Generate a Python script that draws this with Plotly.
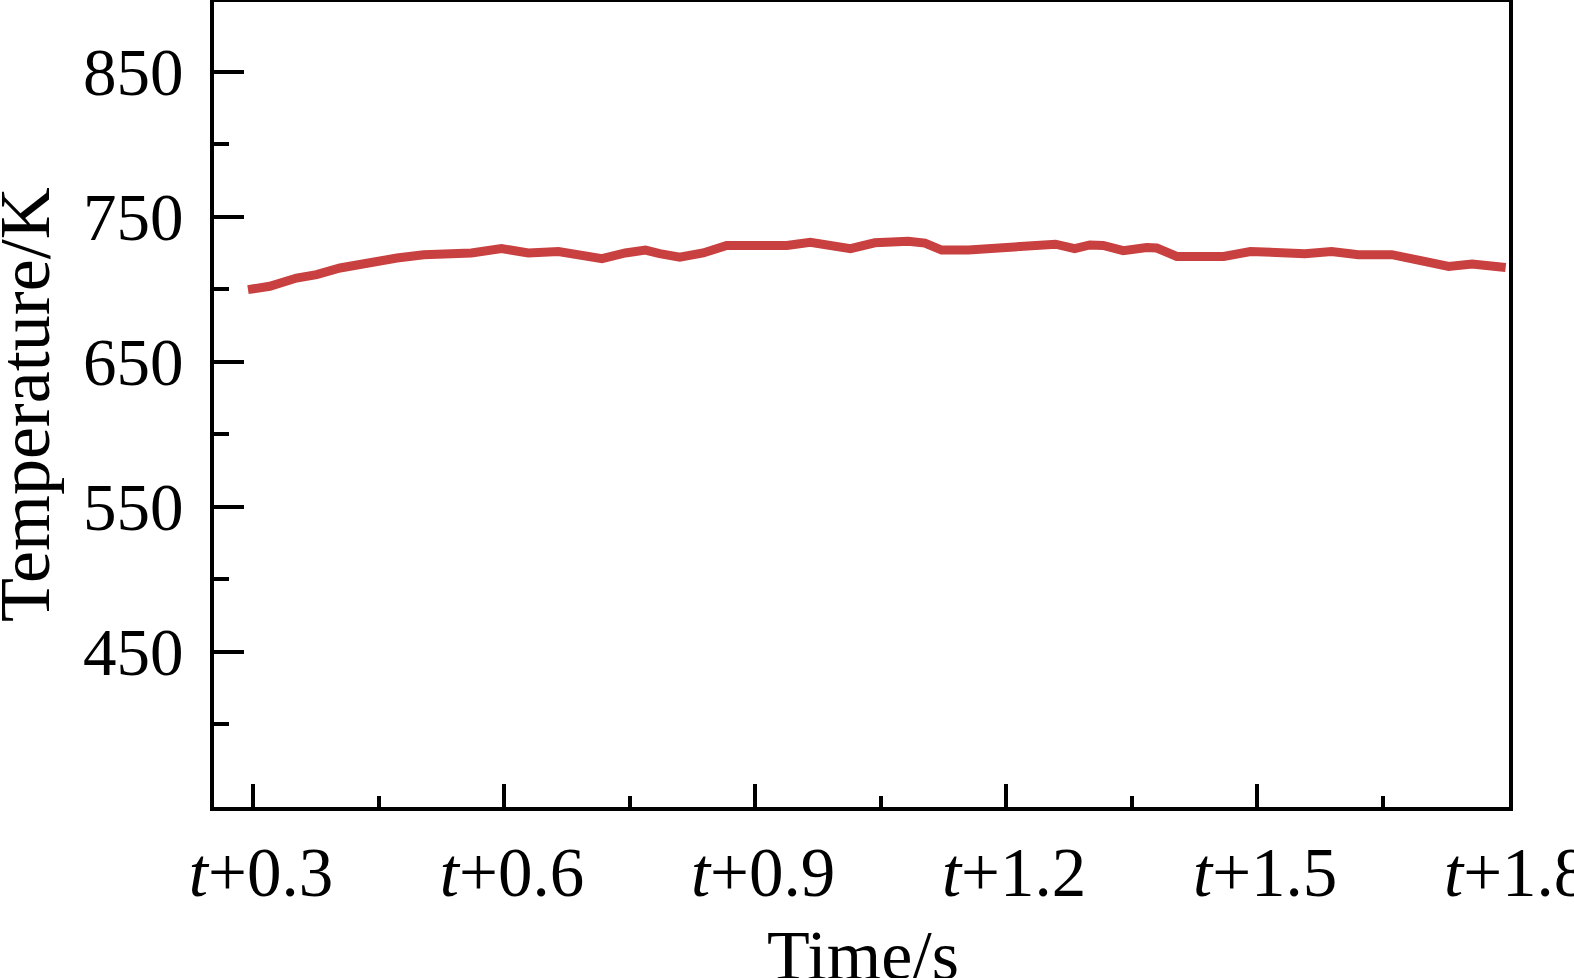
import plotly.graph_objects as go

# Data (time offset in s after t, temperature in K)
time_s = [0.294, 0.320, 0.352, 0.376, 0.404, 0.440, 0.472, 0.504, 0.527, 0.561,
          0.597, 0.629, 0.665, 0.697, 0.717, 0.745, 0.769, 0.786, 0.810, 0.838,
          0.866, 0.906, 0.938, 0.966, 0.994, 1.014, 1.043, 1.083, 1.103, 1.123,
          1.155, 1.195, 1.227, 1.259, 1.282, 1.300, 1.316, 1.340, 1.368, 1.380,
          1.404, 1.440, 1.460, 1.492, 1.524, 1.557, 1.589, 1.621, 1.661, 1.693,
          1.729, 1.757, 1.797]
temperature_K = [699.7, 702.0, 707.7, 710.0, 714.6, 719.0, 721.5, 723.8, 724.3, 725.0,
                 728.0, 725.0, 726.0, 723.4, 721.0, 725.0, 727.0, 724.5, 722.0, 725.0,
                 730.2, 730.2, 730.2, 732.4, 730.2, 728.0, 732.0, 733.0, 731.8, 727.0,
                 727.0, 728.0, 730.2, 731.0, 728.0, 730.5, 730.2, 726.6, 728.8, 728.4,
                 722.6, 723.4, 722.6, 726.0, 725.0, 724.5, 726.0, 723.8, 723.8, 720.3,
                 715.7, 717.4, 715.0]

x_tick_vals = [0.3, 0.6, 0.9, 1.2, 1.5, 1.8]
x_tick_text = ["<i>t</i>+0.3", "<i>t</i>+0.6", "<i>t</i>+0.9",
               "<i>t</i>+1.2", "<i>t</i>+1.5", "<i>t</i>+1.8"]
y_tick_vals = [450, 550, 650, 750, 850]
x_minor_vals = [0.45, 0.75, 1.05, 1.35, 1.65]
y_minor_vals = [400, 500, 600, 700, 800]

FONT = "Liberation Serif, Times New Roman, serif"

L, R, T, B = 214, 65, 2, 171
W, H = 1574, 978
PW, PH = W - L - R, H - T - B

fig = go.Figure()
fig.add_trace(go.Scatter(
    x=time_s, y=temperature_K, mode="lines",
    line=dict(color="#c8403f", width=9),
    showlegend=False,
))

fig.update_layout(
    width=W, height=H,
    margin=dict(l=L, r=R, t=T, b=B, autoexpand=False),
    paper_bgcolor="white", plot_bgcolor="white",
    font=dict(family=FONT, size=68, color="black"),
    xaxis=dict(
        range=[0.2534, 1.801], automargin=False,
        tickmode="array", tickvals=x_tick_vals, ticktext=x_tick_text,
        ticks="inside", ticklen=23, tickwidth=4, tickcolor="black",
        minor=dict(tickmode="array", tickvals=x_minor_vals,
                   ticks="inside", ticklen=11, tickwidth=4, tickcolor="black"),
        showline=True, linecolor="black", linewidth=4, mirror=True,
        showgrid=False, zeroline=False,
        tickfont=dict(family=FONT, size=69),
        ticklabelstandoff=2, ticklabelshift=8, ticklabeloverflow="allow",
    ),
    yaxis=dict(
        range=[343, 898], automargin=False,
        tickmode="array", tickvals=y_tick_vals,
        ticks="inside", ticklen=30, tickwidth=4, tickcolor="black",
        minor=dict(tickmode="array", tickvals=y_minor_vals,
                   ticks="inside", ticklen=15, tickwidth=4, tickcolor="black"),
        showline=True, linecolor="black", linewidth=4, mirror=True,
        showgrid=False, zeroline=False,
        tickfont=dict(family=FONT, size=67),
        ticklabelstandoff=13, ticklabeloverflow="allow",
    ),
    annotations=[
        dict(text="Time/s", xref="paper", yref="paper",
             x=(863 - L) / PW, y=(PH + T - 955) / PH,
             xanchor="center", yanchor="middle", showarrow=False,
             font=dict(family=FONT, size=70)),
        dict(text="Temperature/K", xref="paper", yref="paper",
             x=(25 - L) / PW, y=(PH + T - 405) / PH, textangle=-90,
             xanchor="center", yanchor="middle", showarrow=False,
             font=dict(family=FONT, size=72)),
    ],
)

fig.write_html("out.html", config={"displayModeBar": False},
               post_script="document.body.style.margin='0';document.body.style.overflow='hidden';")
